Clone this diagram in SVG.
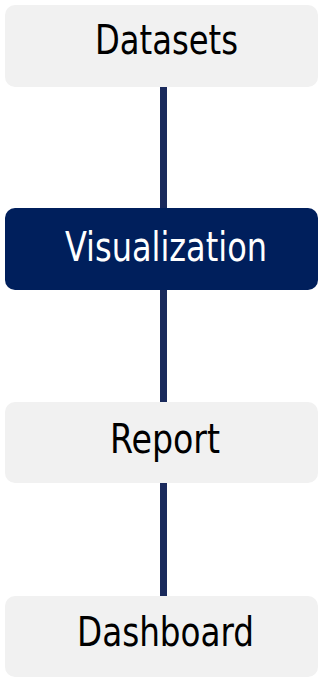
<svg xmlns="http://www.w3.org/2000/svg" width="320" height="677" viewBox="0 0 320 677">
<style>
.box{fill:#f1f1f1}
.dark{fill:#001f5c}
.lbl{font-family:"DejaVu Sans Condensed","DejaVu Sans",sans-serif;font-size:40px;fill:#000}
.lblw{font-family:"DejaVu Sans Condensed","DejaVu Sans",sans-serif;font-size:40px;fill:#fff}
.conn{stroke:#1a2a5c;stroke-width:7;fill:none}
</style>
<rect width="320" height="677" fill="#fff"/>
<g id="connectors">
<line class="conn" x1="163.5" y1="87" x2="163.5" y2="208"/>
<line class="conn" x1="163.5" y1="290" x2="163.5" y2="402"/>
<line class="conn" x1="163.5" y1="483" x2="163.5" y2="596"/>
</g>
<g id="node-datasets">
<rect class="box" x="5" y="5" width="313" height="82" rx="10"/>
<text class="lbl" x="95" y="54" textLength="143" lengthAdjust="spacingAndGlyphs">Datasets</text>
</g>
<g id="node-visualization">
<rect class="dark" x="5" y="208" width="313" height="82" rx="10"/>
<text class="lblw" x="65" y="261" textLength="202" lengthAdjust="spacingAndGlyphs">Visualization</text>
</g>
<g id="node-report">
<rect class="box" x="5" y="402" width="313" height="81" rx="10"/>
<text class="lbl" x="110" y="453" textLength="110" lengthAdjust="spacingAndGlyphs">Report</text>
</g>
<g id="node-dashboard">
<rect class="box" x="5" y="596" width="313" height="81" rx="10"/>
<text class="lbl" x="77" y="646" textLength="177" lengthAdjust="spacingAndGlyphs">Dashboard</text>
</g>
</svg>
